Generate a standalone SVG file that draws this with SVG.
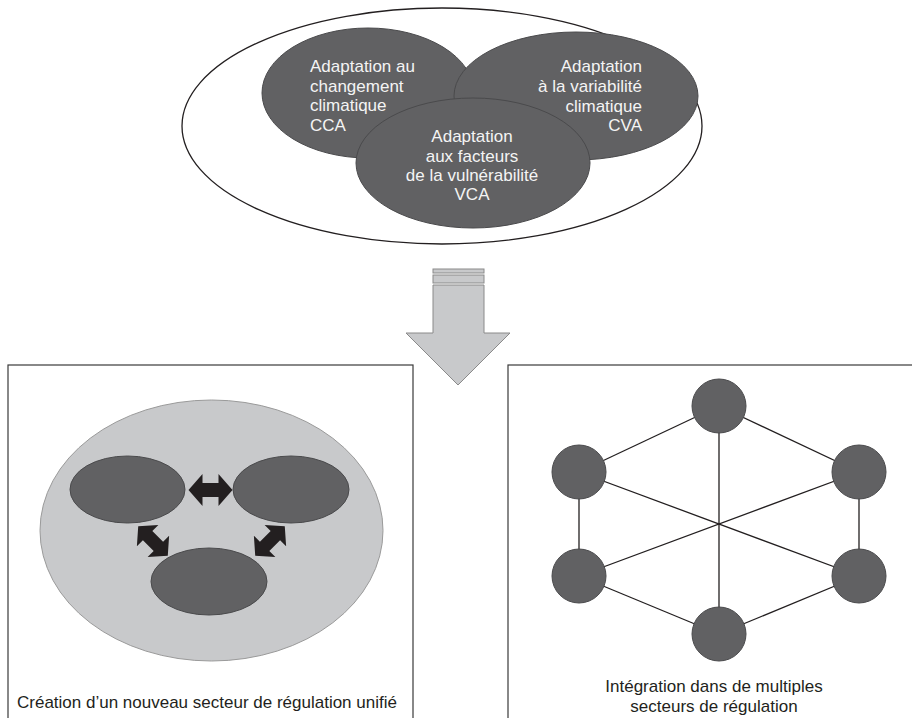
<svg xmlns="http://www.w3.org/2000/svg" width="912" height="718" viewBox="0 0 912 718">
<style>
.dark{fill:#616163;stroke:#4a4a4c;stroke-width:1}
.wt{font-family:"Liberation Sans",Arial,sans-serif;font-size:17px;fill:#f4f4f4}
.bt{font-family:"Liberation Sans",Arial,sans-serif;font-size:17px;fill:#231f20}
.frame{fill:none;stroke:#3a3a3a;stroke-width:1.2}
.ln{stroke:#231f20;stroke-width:1.3;fill:none}
.blk{fill:#231f20}
</style>
<defs>
<path id="dbl" d="M-22,0 L-8,-16 L-8,-7 L8,-7 L8,-16 L22,0 L8,16 L8,7 L-8,7 L-8,16 Z"/>
</defs>
<rect width="912" height="718" fill="#ffffff"/>

<g id="top-group">
<ellipse cx="442" cy="126" rx="260" ry="118" fill="#ffffff" stroke="#231f20" stroke-width="1.3"/>
</g>
<g id="cca">
<ellipse class="dark" cx="368" cy="93" rx="106" ry="65"/>
<text class="wt" x="310" y="72">Adaptation au</text>
<text class="wt" x="310" y="92">changement</text>
<text class="wt" x="310" y="111">climatique</text>
<text class="wt" x="310" y="131">CCA</text>
</g>
<g id="cva">
<ellipse class="dark" cx="576" cy="96" rx="122" ry="64"/>
<text class="wt" x="642" y="72" text-anchor="end">Adaptation</text>
<text class="wt" x="642" y="92" text-anchor="end">à la variabilité</text>
<text class="wt" x="642" y="112" text-anchor="end">climatique</text>
<text class="wt" x="642" y="131" text-anchor="end">CVA</text>
</g>
<g id="vca">
<ellipse class="dark" cx="473" cy="163" rx="117" ry="65"/>
<text class="wt" x="472" y="142" text-anchor="middle">Adaptation</text>
<text class="wt" x="472" y="162" text-anchor="middle">aux facteurs</text>
<text class="wt" x="472" y="181" text-anchor="middle">de la vulnérabilité</text>
<text class="wt" x="472" y="200" text-anchor="middle">VCA</text>
</g>

<g id="big-arrow" fill="#c8c9cb" stroke="#8a8a8a" stroke-width="1">
<rect x="433" y="269" width="51" height="4"/>
<rect x="433" y="275" width="51" height="8"/>
<polygon points="433,285 484,285 484,333 510,333 458,385 406,333 433,333"/>
</g>

<g id="left-panel">
<rect class="frame" x="8" y="365" width="405" height="370"/>
<ellipse cx="211.5" cy="530.5" rx="171.5" ry="130.5" fill="#c8c9cb" stroke="#9a9a9a" stroke-width="1"/>
<ellipse class="dark" cx="127.5" cy="489.5" rx="57.5" ry="33.5"/>
<ellipse class="dark" cx="291" cy="489.5" rx="58" ry="33.5"/>
<ellipse class="dark" cx="209" cy="581.5" rx="58" ry="33.5"/>
<use href="#dbl" class="blk" transform="translate(210.5,490)"/>
<use href="#dbl" class="blk" transform="translate(153,541) rotate(45) scale(0.95)"/>
<use href="#dbl" class="blk" transform="translate(270,541) rotate(-45) scale(0.95)"/>
<text class="bt" x="17" y="708">Création d’un nouveau secteur de régulation unifié</text>
</g>

<g id="right-panel">
<rect class="frame" x="508" y="365" width="420" height="370"/>
<g id="connectors" class="ln">
<line x1="719" y1="406" x2="579" y2="472"/>
<line x1="719" y1="406" x2="859" y2="472"/>
<line x1="579" y1="472" x2="579" y2="576"/>
<line x1="859" y1="472" x2="859" y2="576"/>
<line x1="579" y1="576" x2="719" y2="634"/>
<line x1="859" y1="576" x2="719" y2="634"/>
<line x1="719" y1="406" x2="719" y2="634"/>
<line x1="579" y1="472" x2="859" y2="576"/>
<line x1="859" y1="472" x2="579" y2="576"/>
</g>
<g id="n-top"><circle class="dark" cx="719" cy="406" r="27"/></g>
<g id="n-ul"><circle class="dark" cx="579" cy="472" r="27"/></g>
<g id="n-ur"><circle class="dark" cx="859" cy="472" r="27"/></g>
<g id="n-ll"><circle class="dark" cx="579" cy="576" r="27"/></g>
<g id="n-lr"><circle class="dark" cx="859" cy="576" r="27"/></g>
<g id="n-bot"><circle class="dark" cx="719" cy="634" r="27"/></g>
<text class="bt" x="714" y="692" text-anchor="middle">Intégration dans de multiples</text>
<text class="bt" x="714" y="712" text-anchor="middle">secteurs de régulation</text>
</g>
</svg>
